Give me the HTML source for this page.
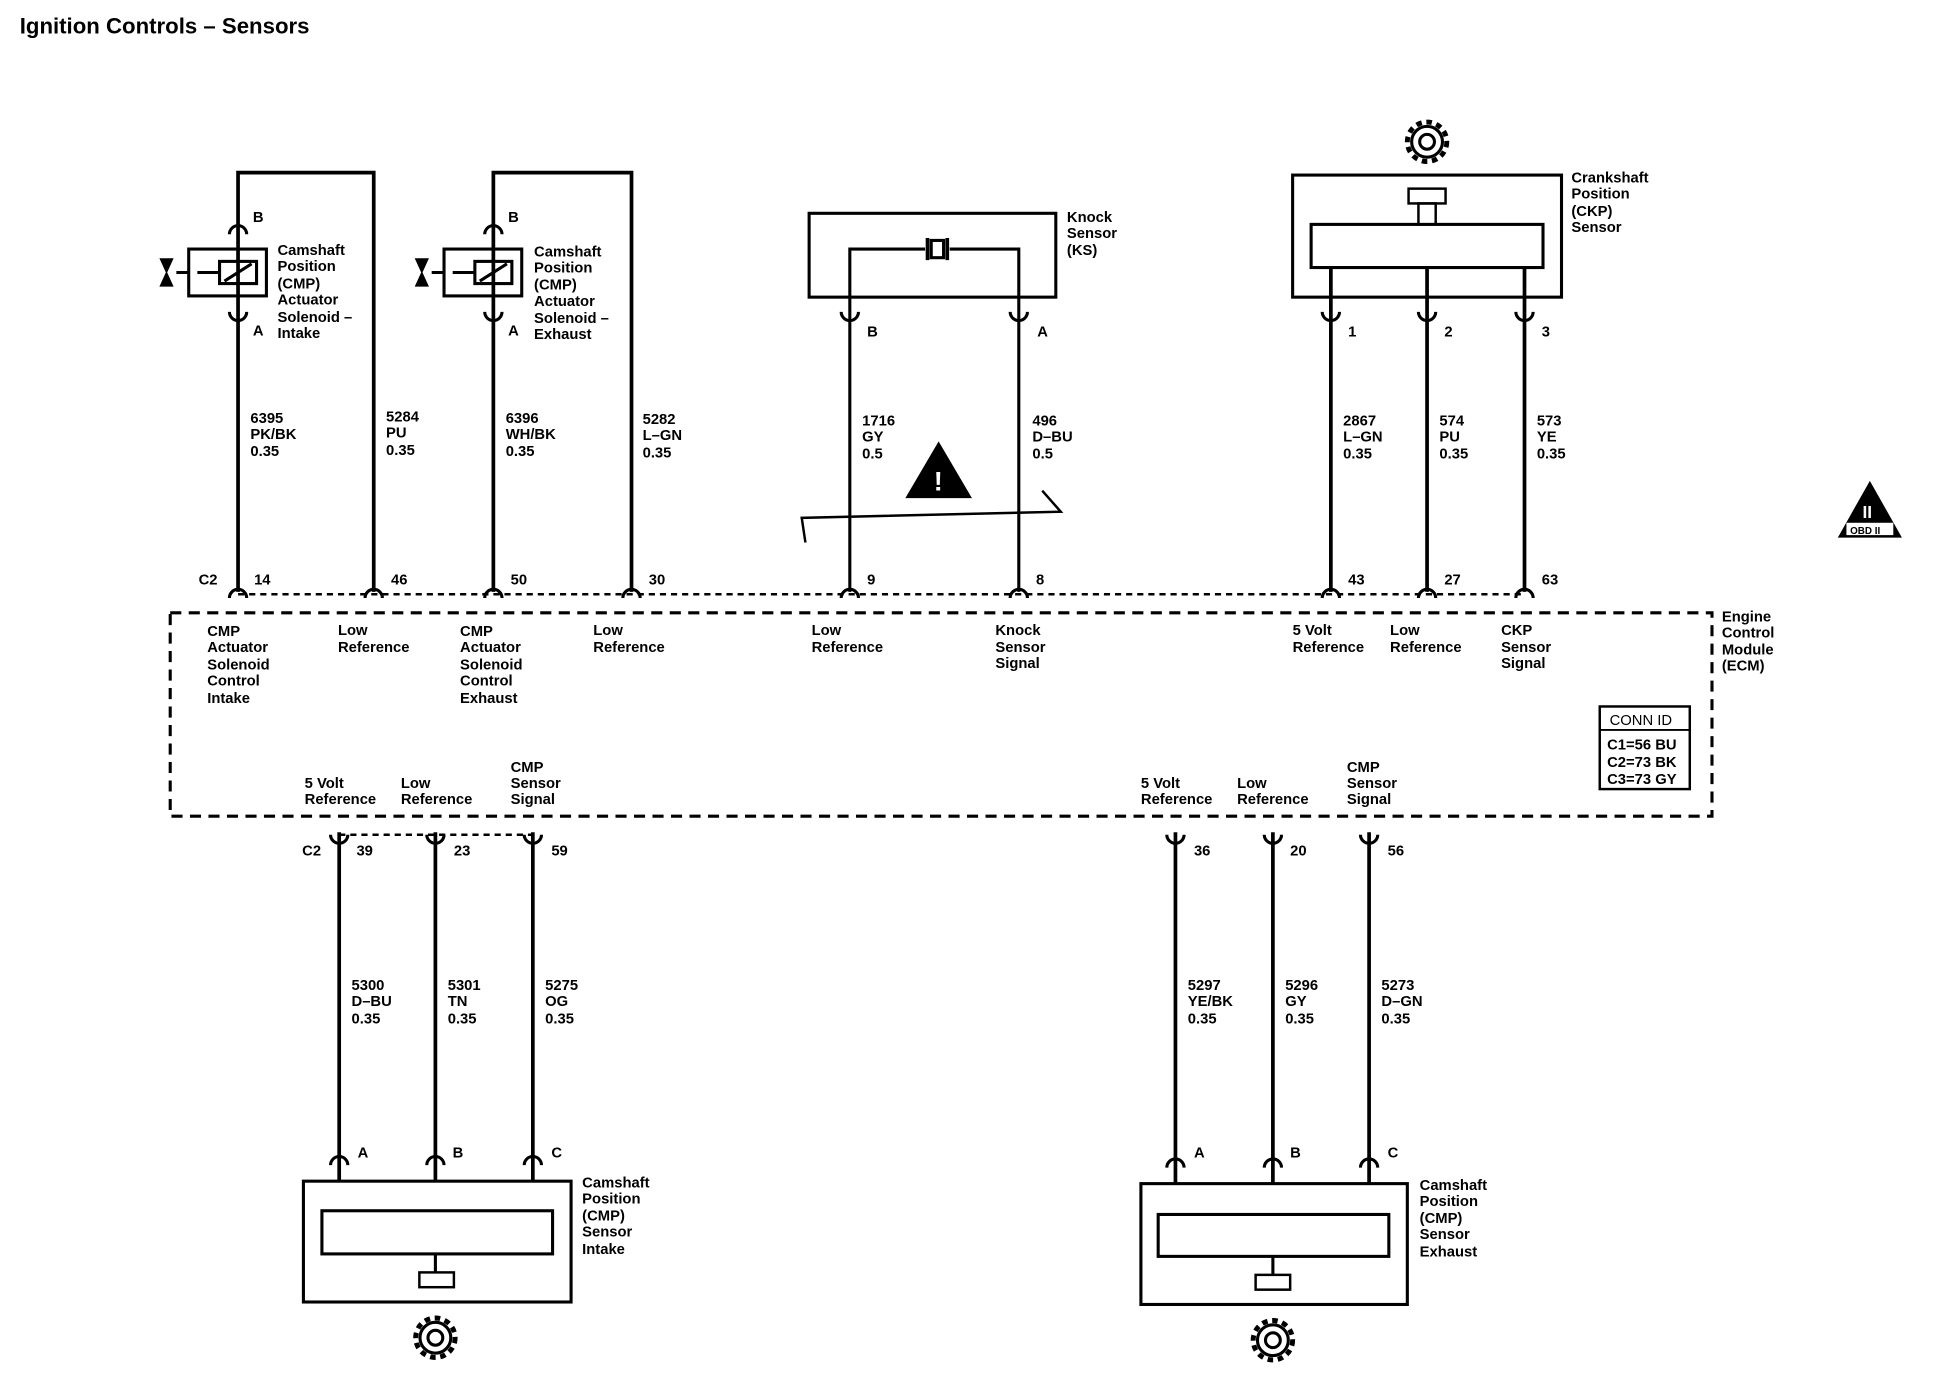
<!DOCTYPE html>
<html><head><meta charset="utf-8"><style>
html,body{margin:0;padding:0;background:#fff}
svg{display:block}
text{font-family:"Liberation Sans",sans-serif;font-size:12px;fill:#000;font-weight:bold}
.n{font-weight:normal}
</style></head><body>
<svg width="1934" height="1392" viewBox="0 0 1568 1129" preserveAspectRatio="none" xmlns="http://www.w3.org/2000/svg">
<defs>
<g id="cd"><path d="M-7,5 A7,7 0 0 1 7,5" fill="none" stroke="#000" stroke-width="2.5"/></g>
<g id="cu"><path d="M-7,-5 A7,7 0 0 0 7,-5" fill="none" stroke="#000" stroke-width="2.5"/></g>
<g id="gear"><circle r="16" fill="none" stroke="#000" stroke-width="4" stroke-dasharray="4.5 3.8"/><circle r="12.5" fill="none" stroke="#000" stroke-width="2.5"/><circle r="6" fill="none" stroke="#000" stroke-width="2.5"/></g>
</defs>
<text x="16" y="27" style="font-size:18px">Ignition Controls – Sensors</text>
<g stroke="#000" stroke-width="3" fill="none">
<path d="M193,480 V140 H303 V480"/>
<path d="M400,480 V140 H512 V480"/>
<rect x="153" y="202" width="63" height="38" stroke-width="2.5"/>
<rect x="360" y="202" width="63" height="38" stroke-width="2.5"/>
<rect x="656" y="173" width="200" height="68" stroke-width="2.5"/>
<path d="M689,480 V202 H750 M770,202 H826 V480" stroke-width="2.5"/>
<path d="M653,440 L650,420 L860,415 L845,398" stroke-width="2"/>
<rect x="1048" y="142" width="218" height="99" stroke-width="2.5"/>
<rect x="1063" y="182" width="188" height="35" stroke-width="2.5"/>
<path d="M1079,217 V480 M1157,217 V480 M1236,217 V480"/>
<rect x="1150" y="165" width="14" height="17" stroke-width="2"/>
<rect x="138" y="497" width="1250" height="165" stroke-dasharray="9 6" stroke-width="2.5"/>
<path d="M193,482 H1236" stroke-dasharray="5 4" stroke-width="2"/>
<path d="M275,677 H432" stroke-dasharray="5 4" stroke-width="2"/>
<rect x="1297" y="573" width="73" height="67" stroke-width="2"/>
<path d="M1297,592 H1370" stroke-width="1.5"/>
<path d="M275,675 V958 M353,675 V958 M432,675 V958"/>
<rect x="246" y="958" width="217" height="98" stroke-width="2.5"/>
<rect x="261" y="982" width="187" height="35" stroke-width="2.5"/>
<path d="M953,675 V960 M1032,675 V960 M1110,675 V960"/>
<rect x="925" y="960" width="216" height="98" stroke-width="2.5"/>
<rect x="939" y="985" width="187" height="34" stroke-width="2.5"/>
<path d="M353,1017 V1032 M1032,1019 V1034" stroke-width="2.5"/>
</g>
<g stroke="#000" stroke-width="2.5" fill="none">
<rect x="178" y="212" width="30" height="18"/><path d="M182,228 L204,214"/>
<path d="M153,221 H143 M160,221 H178"/>
<rect x="385" y="212" width="30" height="18"/><path d="M389,228 L411,214"/>
<path d="M360,221 H350 M367,221 H385"/>
<path d="M130,210 L140,210 L130,232 L140,232 Z" fill="#000" stroke-width="1"/>
<path d="M337,210 L347,210 L337,232 L347,232 Z" fill="#000" stroke-width="1"/>
<path d="M752,193 V211 M768,193 V211" stroke-width="3"/><rect x="755" y="195" width="10" height="14"/>
<rect x="1142" y="153" width="30" height="12" stroke-width="2"/>
<rect x="340" y="1032" width="28" height="12" stroke-width="2"/>
<rect x="1018" y="1034" width="28" height="12" stroke-width="2"/>
</g>
<use href="#cd" x="193" y="185"/><use href="#cu" x="193" y="258"/>
<use href="#cd" x="400" y="185"/><use href="#cu" x="400" y="258"/>
<use href="#cu" x="689" y="258"/><use href="#cu" x="826" y="258"/>
<use href="#cu" x="1079" y="258"/><use href="#cu" x="1157" y="258"/><use href="#cu" x="1236" y="258"/>
<use href="#cd" x="193" y="480"/><use href="#cd" x="303" y="480"/><use href="#cd" x="400" y="480"/><use href="#cd" x="512" y="480"/>
<use href="#cd" x="689" y="480"/><use href="#cd" x="826" y="480"/><use href="#cd" x="1079" y="480"/><use href="#cd" x="1157" y="480"/><use href="#cd" x="1236" y="480"/>
<use href="#cu" x="275" y="682"/><use href="#cu" x="353" y="682"/><use href="#cu" x="432" y="682"/>
<use href="#cu" x="953" y="682"/><use href="#cu" x="1032" y="682"/><use href="#cu" x="1110" y="682"/>
<use href="#cd" x="275" y="940"/><use href="#cd" x="353" y="940"/><use href="#cd" x="432" y="940"/>
<use href="#cd" x="953" y="942"/><use href="#cd" x="1032" y="942"/><use href="#cd" x="1110" y="942"/>
<use href="#gear" x="1157" y="115"/><use href="#gear" x="353" y="1085"/><use href="#gear" x="1032" y="1087"/>
<path d="M761,358 L788,404 L734,404 Z" fill="#000"/><text x="757" y="398" style="fill:#fff;font-size:22px">!</text>
<path d="M1516,390 L1542,436 L1490,436 Z" fill="#000"/><rect x="1497" y="424" width="38" height="10" fill="#fff"/>
<text x="1500" y="433" style="font-size:8px">OBD II</text><text x="1510" y="420" style="fill:#fff;font-size:14px">II</text>
<g>
<text x="205" y="180">B</text><text x="205" y="272">A</text>
<text x="412" y="180">B</text><text x="412" y="272">A</text>
<text x="225" y="207">Camshaft</text><text x="225" y="220">Position</text><text x="225" y="234">(CMP)</text><text x="225" y="247">Actuator</text><text x="225" y="261">Solenoid –</text><text x="225" y="274">Intake</text>
<text x="433" y="208">Camshaft</text><text x="433" y="221">Position</text><text x="433" y="235">(CMP)</text><text x="433" y="248">Actuator</text><text x="433" y="262">Solenoid –</text><text x="433" y="275">Exhaust</text>
<text x="865" y="180">Knock</text><text x="865" y="193">Sensor</text><text x="865" y="207">(KS)</text>
<text x="703" y="273">B</text><text x="841" y="273">A</text>
<text x="1274" y="148">Crankshaft</text><text x="1274" y="161">Position</text><text x="1274" y="175">(CKP)</text><text x="1274" y="188">Sensor</text>
<text x="1093" y="273">1</text><text x="1171" y="273">2</text><text x="1250" y="273">3</text>
<text x="203" y="343">6395</text><text x="203" y="356">PK/BK</text><text x="203" y="370">0.35</text>
<text x="313" y="342">5284</text><text x="313" y="355">PU</text><text x="313" y="369">0.35</text>
<text x="410" y="343">6396</text><text x="410" y="356">WH/BK</text><text x="410" y="370">0.35</text>
<text x="521" y="344">5282</text><text x="521" y="357">L–GN</text><text x="521" y="371">0.35</text>
<text x="699" y="345">1716</text><text x="699" y="358">GY</text><text x="699" y="372">0.5</text>
<text x="837" y="345">496</text><text x="837" y="358">D–BU</text><text x="837" y="372">0.5</text>
<text x="1089" y="345">2867</text><text x="1089" y="358">L–GN</text><text x="1089" y="372">0.35</text>
<text x="1167" y="345">574</text><text x="1167" y="358">PU</text><text x="1167" y="372">0.35</text>
<text x="1246" y="345">573</text><text x="1246" y="358">YE</text><text x="1246" y="372">0.35</text>
<text x="161" y="474">C2</text><text x="206" y="474">14</text><text x="317" y="474">46</text><text x="414" y="474">50</text><text x="526" y="474">30</text>
<text x="703" y="474">9</text><text x="840" y="474">8</text><text x="1093" y="474">43</text><text x="1171" y="474">27</text><text x="1250" y="474">63</text>
<text x="168" y="516">CMP</text><text x="168" y="529">Actuator</text><text x="168" y="543">Solenoid</text><text x="168" y="556">Control</text><text x="168" y="570">Intake</text>
<text x="274" y="515">Low</text><text x="274" y="529">Reference</text>
<text x="373" y="516">CMP</text><text x="373" y="529">Actuator</text><text x="373" y="543">Solenoid</text><text x="373" y="556">Control</text><text x="373" y="570">Exhaust</text>
<text x="481" y="515">Low</text><text x="481" y="529">Reference</text>
<text x="658" y="515">Low</text><text x="658" y="529">Reference</text>
<text x="807" y="515">Knock</text><text x="807" y="529">Sensor</text><text x="807" y="542">Signal</text>
<text x="1048" y="515">5 Volt</text><text x="1048" y="529">Reference</text>
<text x="1127" y="515">Low</text><text x="1127" y="529">Reference</text>
<text x="1217" y="515">CKP</text><text x="1217" y="529">Sensor</text><text x="1217" y="542">Signal</text>
<text x="1396" y="504">Engine</text><text x="1396" y="517">Control</text><text x="1396" y="531">Module</text><text x="1396" y="544">(ECM)</text>
<text x="1305" y="588" class="n">CONN ID</text><text x="1303" y="608">C1=56 BU</text><text x="1303" y="622">C2=73 BK</text><text x="1303" y="636">C3=73 GY</text>
<text x="247" y="639">5 Volt</text><text x="247" y="652">Reference</text>
<text x="325" y="639">Low</text><text x="325" y="652">Reference</text>
<text x="414" y="626">CMP</text><text x="414" y="639">Sensor</text><text x="414" y="652">Signal</text>
<text x="925" y="639">5 Volt</text><text x="925" y="652">Reference</text>
<text x="1003" y="639">Low</text><text x="1003" y="652">Reference</text>
<text x="1092" y="626">CMP</text><text x="1092" y="639">Sensor</text><text x="1092" y="652">Signal</text>
<text x="245" y="694">C2</text><text x="289" y="694">39</text><text x="368" y="694">23</text><text x="447" y="694">59</text>
<text x="968" y="694">36</text><text x="1046" y="694">20</text><text x="1125" y="694">56</text>
<text x="285" y="803">5300</text><text x="285" y="816">D–BU</text><text x="285" y="830">0.35</text>
<text x="363" y="803">5301</text><text x="363" y="816">TN</text><text x="363" y="830">0.35</text>
<text x="442" y="803">5275</text><text x="442" y="816">OG</text><text x="442" y="830">0.35</text>
<text x="963" y="803">5297</text><text x="963" y="816">YE/BK</text><text x="963" y="830">0.35</text>
<text x="1042" y="803">5296</text><text x="1042" y="816">GY</text><text x="1042" y="830">0.35</text>
<text x="1120" y="803">5273</text><text x="1120" y="816">D–GN</text><text x="1120" y="830">0.35</text>
<text x="290" y="939">A</text><text x="367" y="939">B</text><text x="447" y="939">C</text>
<text x="968" y="939">A</text><text x="1046" y="939">B</text><text x="1125" y="939">C</text>
<text x="472" y="963">Camshaft</text><text x="472" y="976">Position</text><text x="472" y="990">(CMP)</text><text x="472" y="1003">Sensor</text><text x="472" y="1017">Intake</text>
<text x="1151" y="965">Camshaft</text><text x="1151" y="978">Position</text><text x="1151" y="992">(CMP)</text><text x="1151" y="1005">Sensor</text><text x="1151" y="1019">Exhaust</text>
</g>
</svg>
</body></html>
